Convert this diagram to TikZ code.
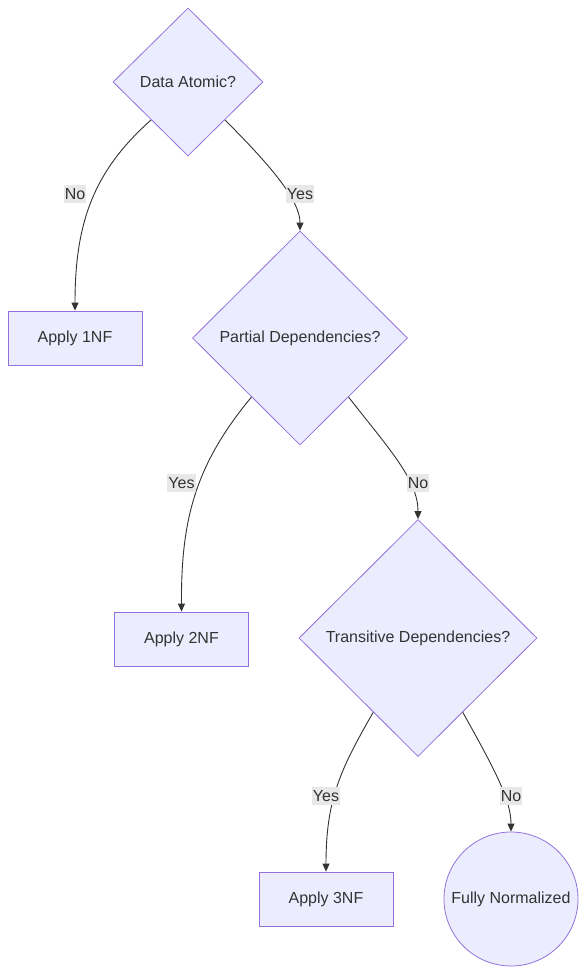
\documentclass[tikz,border=0pt]{standalone}
\usepackage{fontspec}
\setmainfont{Liberation Sans}
\usetikzlibrary{shapes.geometric,arrows.meta,calc}
\definecolor{nodefill}{HTML}{ECECFF}
\definecolor{nodeline}{HTML}{9370DB}
\definecolor{txt}{HTML}{333333}
\definecolor{lblbg}{HTML}{E8E8E8}
\begin{document}
\begin{tikzpicture}[x=1pt,y=-1pt,
  every node/.style={font=\fontsize{16}{19}\selectfont, text=txt},
  dec/.style={shape=diamond, aspect=1, draw=nodeline, fill=nodefill, line width=0.8pt, inner sep=0pt},
  procbox/.style={shape=rectangle, draw=nodeline, fill=nodefill, line width=0.8pt, minimum width=134pt, minimum height=54pt, inner sep=0pt},
  endcirc/.style={shape=circle, draw=nodeline, fill=nodefill, line width=0.8pt, minimum size=134pt, inner sep=0pt},
  conn/.style={draw=txt, line width=0.9pt, -{Triangle[length=8pt,width=7pt]}},
  lbl/.style={fill=lblbg, inner xsep=1pt, inner ysep=3pt}
]
\useasboundingbox (0,0) rectangle (586,975);
\node[dec, minimum width=150pt, minimum height=148pt] (atomic) at (188,82) {Data Atomic?};
\node[procbox] (nf1) at (75,338) {Apply 1NF};
\node[dec, minimum width=215pt, minimum height=214pt] (partial) at (300,338) {Partial Dependencies?};
\node[procbox] (nf2) at (181.5,639) {Apply 2NF};
\node[dec, minimum width=238pt, minimum height=237pt] (trans) at (418,638) {Transitive Dependencies?};
\node[procbox] (nf3) at (326,899) {Apply 3NF};
\node[endcirc] (full) at (511,899) {Fully Normalized};

% connectors
\coordinate (a1) at ($(atomic.south west)!0.02!(atomic.south)$);
\coordinate (a2) at ($(atomic.south east)!0.02!(atomic.south)$);
\draw[conn] (a1) .. controls (95,170) and (75,220) .. (nf1.north);
\draw[conn] (a2) .. controls (270,165) and (300,200) .. (partial.north);

\coordinate (p1) at ($(partial.south west)!0.1!(partial.south)$);
\coordinate (p2) at ($(partial.south east)!0.1!(partial.south)$);
\draw[conn] (p1) .. controls (195,465) and (181,520) .. (nf2.north);
\draw[conn] (p2) .. controls (390,450) and (418,480) .. (trans.north);

\coordinate (t1) at ($(trans.south west)!0.25!(trans.south)$);
\coordinate (t2) at ($(trans.south east)!0.25!(trans.south)$);
\draw[conn] (t1) .. controls (340,770) and (326,800) .. (nf3.north);
\draw[conn] (t2) .. controls (495,770) and (511,800) .. (full.north);

% labels
\node[lbl] (lno1) at (75,194) {No};
\node[lbl] (lyes1) at (300,194) {Yes};
\node[lbl] (lyes2) at (181.5,483) {Yes};
\node[lbl] (lno2) at (418,483) {No};
\node[lbl] (lyes3) at (326,796) {Yes};
\node[lbl] (lno3) at (511,796) {No};
\end{tikzpicture}
\end{document}
